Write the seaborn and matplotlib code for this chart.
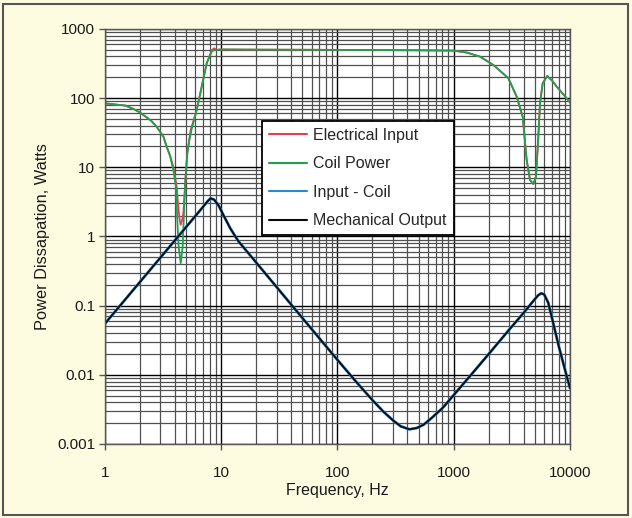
import matplotlib
matplotlib.use("Agg")
import matplotlib.pyplot as plt
import matplotlib.ticker as mticker
from matplotlib.patches import Rectangle
import seaborn as sns

# values
freq_coil = [1, 1.5, 1.75, 2, 2.5, 2.78, 3.18, 3.39, 3.63, 3.87, 4.08, 4.19, 4.3, 4.48, 4.66,
             4.78, 4.91, 5.11, 5.3, 5.57, 6.15, 6.79, 7.5, 8.28, 8.67, 9.14, 10, 20, 50, 100,
             200, 500, 1000, 1300, 1683, 2200, 2950, 3478, 3917, 4240, 4528, 4834, 5100,
             5340, 5520, 5820, 6380, 7000, 7680, 8700, 9870, 10000]
coil_power = [84, 78, 70, 62, 47, 38.7, 27.7, 20, 14.5, 9.2, 5.25, 1.73, 0.71, 0.41, 0.71,
              2.17, 6.6, 16, 24, 36, 67, 146, 319, 470, 500, 497, 505, 502, 500, 498,
              496, 492, 486, 455, 398, 300, 194, 105, 54, 12.8, 6.56, 5.74, 7.3,
              27.7, 84, 164, 209, 180, 147, 115, 89, 86]

freq_elec = [1, 1.5, 1.75, 2, 2.5, 2.78, 3.18, 3.39, 3.63, 3.87, 4.14, 4.27, 4.38, 4.48, 4.6,
             4.72, 4.88, 5.11, 5.46, 6.15, 6.79, 7.5, 8.28, 8.67, 9.14, 10, 20, 50, 100,
             200, 500, 1000, 1300, 1683, 2200, 2950, 3478, 3917, 4240, 4528, 4834, 5100,
             5340, 5520, 5820, 6380, 7000, 7680, 8700, 9870, 10000]
electrical_input = [84, 78, 70, 62, 47, 38.7, 28, 20, 14.8, 10.2, 5.25, 2.7, 1.8, 1.47, 1.7,
                    2.17, 5.25, 16, 34.6, 67, 146, 320, 490, 525, 500, 505, 502, 500, 498,
                    496, 492, 486, 455, 398, 300, 194, 105, 54, 12.8, 6.56, 5.74, 7.3,
                    27.7, 84, 164, 209, 180, 147, 115, 89, 86]

freq_mech = [1, 2, 4, 6, 7, 7.6, 8.1, 8.7, 9.5, 10.5, 12, 14, 20, 30, 50, 100, 150, 200,
             250, 300, 350, 415, 480, 550, 650, 800, 1000, 1500, 2000, 3000, 4000, 4800,
             5300, 5650, 6000, 6500, 7000, 8000, 9000, 10000]
mech_output = [0.055, 0.22, 0.88, 1.98, 2.7, 3.2, 3.56, 3.4, 2.8, 2.0, 1.3, 0.86, 0.42,
               0.185, 0.066, 0.0164, 0.0074, 0.0043, 0.0029, 0.0022, 0.0018, 0.00163,
               0.0017, 0.0019, 0.0024, 0.0033, 0.0051, 0.0113, 0.02, 0.045, 0.079, 0.115,
               0.14, 0.151, 0.145, 0.11, 0.066, 0.026, 0.0123, 0.0064]
input_minus_coil = mech_output  # lies right under the mechanical output curve

x_ticks = [1, 10, 100, 1000, 10000]
x_labels = ["1", "10", "100", "1000", "10000"]
y_ticks = [0.001, 0.01, 0.1, 1, 10, 100, 1000]
y_labels = ["0.001", "0.01", "0.1", "1", "10", "100", "1000"]

sns.set_style("white")
plt.rcParams["font.family"] = ["Liberation Sans", "DejaVu Sans"]

bg = "#fdfbe0"
fig = plt.figure(figsize=(6.32, 5.18), dpi=100, facecolor=bg)
ax = fig.add_axes([0.1661, 0.1429, 0.7358, 0.8012])
ax.set_facecolor("white")

sns.lineplot(x=freq_elec, y=electrical_input, ax=ax, color="#e2405a", lw=1.3,
             label="Electrical Input", estimator=None)
sns.lineplot(x=freq_coil, y=coil_power, ax=ax, color="#20a04c", lw=1.3,
             label="Coil Power", estimator=None)
sns.lineplot(x=freq_mech, y=input_minus_coil, ax=ax, color="#2a88cc", lw=2.1,
             label="Input - Coil", estimator=None)
sns.lineplot(x=freq_mech, y=mech_output, ax=ax, color="#0a0a0a", lw=1.3,
             label="Mechanical Output", estimator=None)

ax.set_xscale("log")
ax.set_yscale("log")
ax.set_xlim(1, 10000)
ax.set_ylim(0.001, 1000)

ax.xaxis.set_major_locator(mticker.FixedLocator(x_ticks))
ax.xaxis.set_major_formatter(mticker.FixedFormatter(x_labels))
ax.yaxis.set_major_locator(mticker.FixedLocator(y_ticks))
ax.yaxis.set_major_formatter(mticker.FixedFormatter(y_labels))
ax.xaxis.set_minor_locator(mticker.LogLocator(base=10, subs=range(2, 10), numticks=20))
ax.yaxis.set_minor_locator(mticker.LogLocator(base=10, subs=range(2, 10), numticks=20))
ax.xaxis.set_minor_formatter(mticker.NullFormatter())
ax.yaxis.set_minor_formatter(mticker.NullFormatter())

ax.grid(True, which="major", color="black", lw=1.0)
ax.grid(True, which="minor", color="#505050", lw=0.9)
ax.set_axisbelow(True)

ax.tick_params(which="major", direction="out", length=4, width=1, color="#555555",
               labelsize=11, labelcolor="#1a1a1a", bottom=True, left=True)
ax.tick_params(axis="x", which="major", pad=12)
ax.tick_params(axis="y", which="major", pad=3)
ax.tick_params(which="minor", length=0)
for s in ax.spines.values():
    s.set_color("#555555")
    s.set_linewidth(1.0)

ax.set_xlabel("Frequency, Hz", fontsize=11.5, color="#1a1a1a")
ax.set_ylabel("Power Dissapation, Watts", fontsize=11.8, color="#1a1a1a")
ax.xaxis.set_label_coords(0.5, -0.094)
ax.yaxis.set_label_coords(-0.1183, 0.5)

leg = ax.legend(loc="upper left", bbox_to_anchor=(262 / 632, 1 - 121 / 518),
                bbox_transform=fig.transFigure, fontsize=11.5, frameon=True,
                fancybox=False, framealpha=1, edgecolor="black", borderpad=0.42,
                labelspacing=0.85, handlelength=2.4, handletextpad=0.4,
                borderaxespad=0)
leg.get_frame().set_linewidth(1.3)
for line in leg.get_lines():
    line.set_linewidth(1.5)

fig.patches.append(Rectangle((3 / 632, 3 / 518), 625 / 632, 511 / 518, transform=fig.transFigure,
                             fill=False, edgecolor="#555555", lw=1.5))

fig.savefig("out.png", dpi=100, facecolor=bg)
